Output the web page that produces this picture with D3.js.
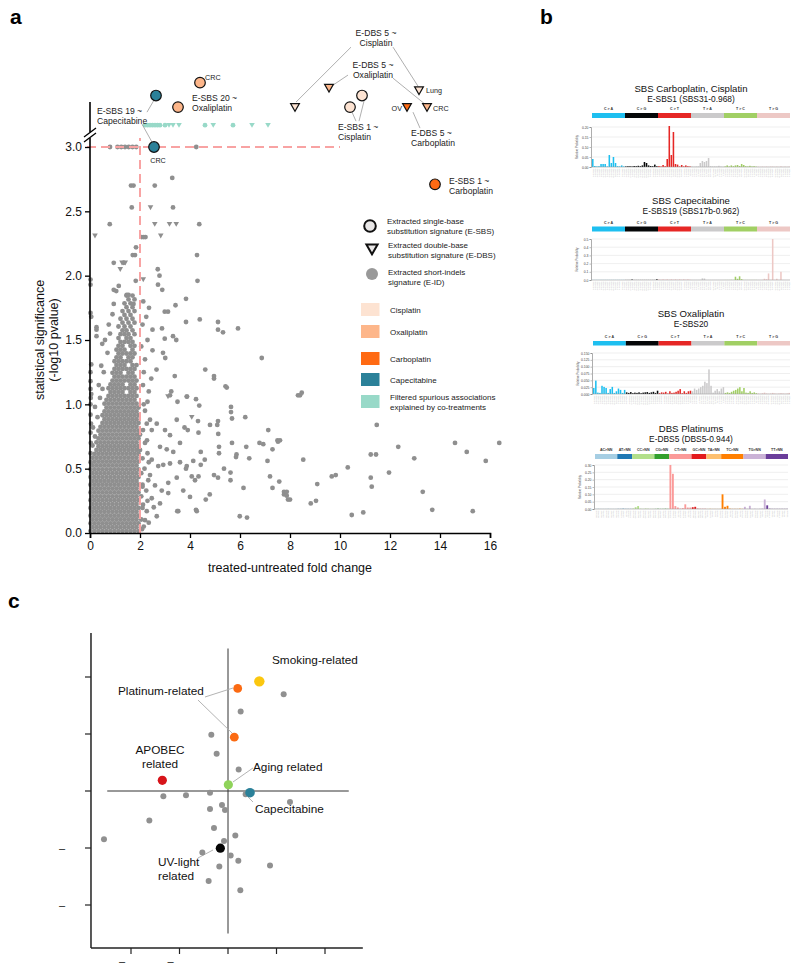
<!DOCTYPE html>
<html><head><meta charset="utf-8">
<script src="https://cdn.jsdelivr.net/npm/d3@7"></script>
<style>body{margin:0;background:#fff}svg{font-family:"Liberation Sans",Arial,Helvetica,sans-serif}</style>
</head><body>
<svg id="fig" width="800" height="973"></svg>
<script>
// ================= DATA =================
// Panel a : axis ticks
const xTicksA = [0,2,4,6,8,10,12,14,16];
const yTicksA = [0,0.5,1,1.5,2,2.5,3];
// dense cloud of associations, rows "y: x x x ..."
const blobRows = [
"0.015:0.02 .18 .34 .5 .66 .82 .98 1.14 1.3 1.46 1.62 1.78 1.94",
"0.045:.1 .26 .42 .58 .74 .9 1.06 1.22 1.38 1.54 1.7 1.86",
"0.075:0.02 .18 .34 .5 .66 .82 .98 1.14 1.3 1.46 1.62 1.78 1.94",
"0.105:.1 .26 .42 .58 .74 .9 1.06 1.22 1.38 1.54 1.7 1.86 2.05",
"0.135:0.02 .18 .34 .5 .66 .82 .98 1.14 1.3 1.46 1.62 1.78 1.94",
"0.165:.1 .26 .42 .58 .74 .9 1.06 1.22 1.38 1.54 1.7 1.86",
"0.195:0.02 .18 .34 .5 .66 .82 .98 1.14 1.3 1.46 1.62 1.78 1.94 2.1",
"0.225:.1 .26 .42 .58 .74 .9 1.06 1.22 1.38 1.54 1.7 1.86",
"0.255:0.02 .18 .34 .5 .66 .82 .98 1.14 1.3 1.46 1.62 1.78 1.94",
"0.285:.1 .26 .42 .58 .74 .9 1.06 1.22 1.38 1.54 1.7 1.86 2.05",
"0.315:0.02 .18 .34 .5 .66 .82 .98 1.14 1.3 1.46 1.62 1.78 1.94",
"0.345:.1 .26 .42 .58 .74 .9 1.06 1.22 1.38 1.54 1.7 1.86",
"0.375:0.02 .18 .34 .5 .66 .82 .98 1.14 1.3 1.46 1.62 1.78 1.94 2.1",
"0.405:.1 .26 .42 .58 .74 .9 1.06 1.22 1.38 1.54 1.7 1.86",
"0.435:0.02 .18 .34 .5 .66 .82 .98 1.14 1.3 1.46 1.62 1.78 1.94",
"0.465:.1 .26 .42 .58 .74 .9 1.06 1.22 1.38 1.54 1.7 1.86 2.05",
"0.495:0.02 .18 .34 .5 .66 .82 .98 1.14 1.3 1.46 1.62 1.78 1.94",
"0.525:.1 .26 .42 .58 .74 .9 1.06 1.22 1.38 1.54 1.7 1.86",
"0.555:.18 .34 .5 .66 .82 .98 1.14 1.3 1.46 1.62 1.78 1.94",
"0.585:.1 .26 .42 .58 .74 .9 1.06 1.22 1.38 1.54 1.7 1.86",
"0.615:.18 .34 .5 .66 .82 .98 1.14 1.3 1.46 1.62 1.78 1.94",
"0.645:.26 .42 .58 .74 .9 1.06 1.22 1.38 1.54 1.7 1.86 2.0",
"0.675:.34 .5 .66 .82 .98 1.14 1.3 1.46 1.62 1.78 1.94",
"0.705:.26 .42 .58 .74 .9 1.06 1.22 1.38 1.54 1.7 1.86",
"0.735:.34 .5 .66 .82 .98 1.14 1.3 1.46 1.62 1.78 1.94",
"0.765:.42 .58 .74 .9 1.06 1.22 1.38 1.54 1.7 1.86 2.0",
"0.795:.34 .5 .66 .82 .98 1.14 1.3 1.46 1.62 1.78 1.94",
"0.825:.42 .58 .74 .9 1.06 1.22 1.38 1.54 1.7 1.86",
"0.855:.5 .66 .82 .98 1.14 1.3 1.46 1.62 1.78 1.94",
"0.885:.58 .74 .9 1.06 1.22 1.38 1.54 1.7 1.86",
"0.915:.5 .66 .82 .98 1.14 1.3 1.46 1.62 1.78 1.94",
"0.945:.58 .74 .9 1.06 1.22 1.38 1.54 1.7 1.86",
"0.975:.66 .82 .98 1.14 1.3 1.46 1.62 1.78 1.94",
"1.005:.58 .74 .9 1.06 1.22 1.38 1.54 1.7 1.86",
"1.035:.66 .82 .98 1.14 1.3 1.46 1.62 1.78",
"1.065:.74 .9 1.06 1.22 1.38 1.54 1.7 1.86",
"1.095:.82 .98 1.14 1.3 1.62 1.78",
"1.125:.74 .9 1.06 1.22 1.38 1.54 1.7 1.86",
"1.155:.82 .98 1.14 1.3 1.62 1.78",
"1.185:.9 1.06 1.22 1.38 1.54 1.7 1.86",
"1.215:.98 1.14 1.3 1.46 1.62 1.78",
"1.245:.9 1.06 1.22 1.54 1.7",
"1.275:.98 1.14 1.3 1.46 1.62 1.78",
"1.305:1.06 1.22 1.38 1.7 1.86",
"1.335:.98 1.14 1.3 1.46 1.62",
"1.365:1.06 1.22 1.54 1.7",
"1.395:1.14 1.3 1.46 1.62 1.78",
"1.425:1.06 1.22 1.38 1.7",
"1.455:1.14 1.3 1.62 1.78",
"1.485:1.22 1.38 1.54 1.7",
"1.515:1.14 1.46 1.62",
"1.545:1.22 1.38 1.54 1.78",
"1.575:1.3 1.46 1.7",
"1.605:1.14 1.38 1.62",
"1.635:1.3 1.54 1.78",
"1.665:1.22 1.46 1.7",
"1.695:1.38 1.62",
"1.725:1.3 1.54 1.78",
"1.755:1.46 1.7",
"1.785:1.38 1.62",
"1.815:1.54 1.78",
"1.845:1.46 1.7"
];
// scattered associations [fold change, -log10 p, shape c=dot / t=DBS triangle]
const scatterPts = [
[0.8,3],[1.1,3],[1.25,3],[1.4,3],[1.55,3],[1.7,3],[1.85,3],[4.25,3],
[3.29,2.76],[1.64,2.70],[1.74,2.70],[2.59,2.70],
[1.67,2.53],[2.42,2.53,'t'],[3.32,2.53],
[0.79,2.40],[2.59,2.40,'t'],[3.18,2.40,'t'],[3.45,2.40,'t'],[4.37,2.40],
[0.2,2.31,'t'],[2.07,2.30],[2.15,2.30],[2.22,2.30],[2.83,2.31,'t'],
[1.84,2.22],[1.71,2.16],[1.80,2.16],[4.28,2.16],
[0.95,2.10],[1.28,2.10,'t'],[1.41,2.10,'t'],[1.35,2.10],[1.21,2.05,'t'],[2.71,2.05],
[4.30,1.96],[0.02,1.97],[0.02,1.93],[2.78,2.0],[2.13,1.97,'t'],[1.83,1.96],[2.72,1.93],[2.89,1.89],
[0.95,1.89],[1.47,1.85],[1.54,1.85],[3.84,1.82],[1.74,1.78],[2.13,1.80],[2.36,1.75],[3.42,1.77],
[0.02,1.71],[0.05,1.68],[2.99,1.72],[3.12,1.72],
[0.26,1.60],[0.26,1.58],[0.26,1.53],[3.84,1.64],[4.39,1.66],[5.12,1.64],[5.12,1.58],[5.32,1.56],[5.92,1.59],
[2.50,1.58],[2.88,1.59],[0.49,1.47],[3.32,1.53],[3.45,1.50],[2.99,1.51],
[2.50,1.42],[2.92,1.40],[3.01,1.36],[6.87,1.36],[0.05,1.31],[2.66,1.27],[4.61,1.27],[4.96,1.22],[4.96,1.20],[3.39,1.22],
[0.02,1.25],[0.02,1.18],[0.02,1.12],[0.05,1.08],[5.42,1.14],[3.25,1.10],[3.12,1.06,'t'],[4.24,1.04],[4.37,0.99],[3.88,1.06],
[5.64,0.98],[5.64,0.94],[5.68,0.89],[6.21,0.90],[4.07,0.90,'t'],[4.32,0.87],[5.12,0.87],[5.09,0.84],
[4.80,0.84],[3.78,0.82],[3.91,0.80],[4.34,0.78],[7.13,0.80],[5.13,0.77],
[6.25,0.67],[5.68,0.70],[6.78,0.70],[6.93,0.69],[7.5,0.72],[7.52,0.71],[7.30,0.65],[6.37,0.58],[7.1,0.56],
[5.16,0.67],[5.16,0.62],[4.43,0.63],[4.59,0.57],[5.86,0.61],[5.84,0.59],
[4.13,0.56],[3.84,0.50],[4.43,0.53],[4.34,0.44],[7.2,0.44],[5.36,0.50],[5.62,0.47],[5.62,0.41],
[5.12,0.43],[4.96,0.45],[4.63,0.26],[4.79,0.30],[6.14,0.35],[7.30,0.35],[7.76,0.32],[7.76,0.30],[7.92,0.26],
[5.99,0.13],[6.28,0.12],[3.49,0.17],[4.24,0.18],[8.32,1.07],[7.57,0.40],
[2.27,0.85],[2.47,0.80],[2.67,0.85],[3.0,0.80],[3.2,0.76],[3.47,0.88],[2.8,0.67],[3.07,0.65],[3.33,0.63],[3.6,0.70],
[2.47,0.57],[2.73,0.52],[2.93,0.53],[3.2,0.54],[3.6,0.55],[3.87,0.52],[4.07,0.44],[2.33,0.41],[2.6,0.37],[2.87,0.33],
[3.13,0.39],[3.47,0.43],[3.73,0.33],[4.0,0.28],[4.2,0.41],[2.47,0.27],[2.8,0.23],[3.13,0.31],[2.27,0.17],[2.67,0.13],
[4.27,0.17],[3.53,0.17],[3.2,1.07],[3.5,1.02],[3.87,1.06],[5.47,1.13],
[2.2,0.95],[2.35,1.1],[2.15,1.25],[2.3,0.62],[2.2,0.7],[2.4,0.45],[2.25,0.33],[2.55,0.2],[2.15,0.05],[2.35,0.08],
[2.08,0.03],[2.2,0.1],[2.12,0.22],[2.3,0.25],[2.1,0.36],[2.18,0.5],[2.35,0.55],[2.1,0.58],[2.28,0.72],[2.12,0.8],
[2.4,0.88],[2.15,1.0],[2.3,1.02],[2.12,1.15],[2.45,1.2],[2.2,1.35],[2.05,1.45],[2.3,1.5],[2.1,1.62],[2.25,1.68],
[0.1,0.68],[0.2,0.75],[0.12,0.82],[0.3,0.9],[0.2,0.98],[0.4,1.05],[0.35,1.15],[0.5,1.12],[0.55,1.25],[0.45,1.3],
[0.7,1.4],[0.6,1.5],[0.8,1.55],[0.75,1.62],[0.9,1.7],[0.95,1.78],[1.05,1.88],[1.15,1.92],
[0.02,0.55],[0.02,0.62],[0.03,0.70],[0.02,0.78],[0.04,0.85],[0.02,0.92],[0.02,1.0],[0.03,1.05],
[8.4,1.07],[8.47,1.09],[7.6,0.72],[11.47,0.84],[12.33,0.67],[11.23,0.61],[11.44,0.61],[14.6,0.70],[16.37,0.70],
[15.07,0.63],[15.83,0.56],[12.97,0.58],[8.53,0.57],[10.31,0.51],[9.67,0.44],[9.83,0.45],[11.23,0.43],[11.96,0.47],
[9.09,0.38],[11.27,0.36],[7.87,0.32],[7.87,0.29],[8.0,0.26],[8.83,0.23],[9.04,0.25],[13.31,0.32],[13.69,0.18],
[15.31,0.17],[10.47,0.14],[10.93,0.16]
];
// filtered spurious associations (drawn above the axis break)
const filteredLevel = 3.17;
const filteredPts = [[2.2,'c'],[2.3,'c'],[2.4,'c'],[2.5,'c'],[2.6,'c'],[2.7,'c'],[2.8,'c'],[3.0,'c'],
 [3.16,'t'],[3.32,'t'],[3.56,'t'],[4.6,'c'],[4.93,'t'],[5.72,'c'],[6.48,'t'],[7.12,'t']];
// highlighted treatment-associated signatures
const drugs = ["Cisplatin","Oxaliplatin","Carboplatin","Capecitabine","Filtered spurious associations|explained by co-treatments"];
const drugColors = ["#fde3d2","#fdb68a","#ff6a13","#2b8199","#98d9c8"];
const highlights = [
 {x:2.64,y:3.40,s:'c',d:"Capecitabine"},{x:2.56,y:3.0,s:'c',d:"Capecitabine"},
 {x:3.52,y:3.31,s:'c',d:"Oxaliplatin"},{x:4.4,y:3.50,s:'c',d:"Oxaliplatin"},
 {x:10.4,y:3.31,s:'c',d:"Cisplatin"},{x:10.88,y:3.40,s:'c',d:"Cisplatin"},
 {x:13.8,y:2.71,s:'c',d:"Carboplatin"},
 {x:8.2,y:3.31,s:'t',d:"Cisplatin"},{x:9.56,y:3.46,s:'t',d:"Oxaliplatin"},
 {x:13.16,y:3.44,s:'t',d:"Cisplatin"},{x:13.48,y:3.31,s:'t',d:"Oxaliplatin"},
 {x:12.68,y:3.31,s:'t',d:"Carboplatin"}
];
const annoLabels = [
 {t:["E-DBS 5 ~","Cisplatin"],x:11.44,y:3.862,a:"middle"},
 {t:["E-DBS 5 ~","Oxaliplatin"],x:11.32,y:3.613,a:"middle"},
 {t:["E-SBS 20 ~","Oxaliplatin"],x:4.08,y:3.357,a:"start"},
 {t:["E-SBS 19 ~","Capecitabine"],x:0.28,y:3.256,a:"start"},
 {t:["E-SBS 1 ~","Cisplatin"],x:9.92,y:3.131,a:"start"},
 {t:["E-DBS 5 ~","Carboplatin"],x:12.84,y:3.085,a:"start"},
 {t:["E-SBS 1 ~","Carboplatin"],x:14.36,y:2.712,a:"start"}
];
const tagLabels = [
 {t:"CRC",x:4.6,y:3.52,a:"start"},{t:"CRC",x:2.72,y:2.875,a:"middle"},
 {t:"Lung",x:13.44,y:3.419,a:"start"},{t:"CRC",x:13.72,y:3.279,a:"start"},{t:"OV",x:12.48,y:3.279,a:"end"}
];
const leadersA = [
 [10.44,3.776,8.24,3.349],[12.12,3.776,13.12,3.473],
 [10.32,3.559,9.72,3.481],[12.12,3.535,13.4,3.333],
 [2.28,3.271,2.56,3.364],[2.08,3.178,2.48,3.038],
 [10.64,3.201,10.48,3.271],[10.76,3.201,10.96,3.357],
 [12.92,3.271,13.2,3.147]
];

// Panel b : mutational signature profiles
const sbsTypes = ["C > A","C > G","C > T","T > A","T > C","T > G"];
const sbsColors = ["#1ebff0","#050708","#e62725","#cbcacb","#a1cf64","#edc8c5"];
const bases = ["A","C","G","T"];
const sbs1 = [
 0.04,0.005,0.003,0.004,0.015,0.015,0.015,0.003,0.06,0.02,0.05,0.02,0.004,0.003,0.008,0.003,
 0.003,0.004,0.004,0.003,0.005,0.004,0.006,0.004,0.008,0.025,0.02,0.008,0.005,0.004,0.012,0.004,
 0.005,0.003,0.01,0.004,0.04,0.205,0.06,0.175,0.015,0.012,0.003,0.01,0.003,0.008,0.004,0.003,
 0.003,0.002,0.003,0.003,0.02,0.03,0.025,0.03,0.045,0.004,0.003,0.003,0.003,0.006,0.003,0.002,
 0.003,0.008,0.003,0.008,0.004,0.008,0.01,0.005,0.015,0.01,0.004,0.003,0.006,0.003,0.004,0.002,
 0.002,0.001,0.002,0.001,0.002,0.001,0.002,0.002,0.001,0.002,0.001,0.003,0.001,0.002,0.001,0.002];
const sbs19 = [
 0.001,0.001,0.001,0.001,0.001,0.001,0.001,0.001,0.001,0.001,0.001,0.001,0.001,0.001,0.001,0.001,
 0.001,0.001,0.001,0.006,0.001,0.001,0.001,0.001,0.001,0.001,0.001,0.001,0.001,0.001,0.001,0.009,
 0.002,0.001,0.002,0.001,0.002,0.001,0.002,0.001,0.002,0.001,0.002,0.001,0.002,0.001,0.002,0.001,
 0.001,0.001,0.001,0.001,0.002,0.02,0.018,0.001,0.001,0.001,0.001,0.001,0.001,0.001,0.001,0.001,
 0.001,0.001,0.001,0.002,0.001,0.04,0.015,0.045,0.01,0.001,0.001,0.001,0.001,0.001,0.001,0.001,
 0.001,0.001,0.002,0.015,0.01,0.08,0.002,0.5,0.002,0.015,0.002,0.1,0.002,0.001,0.001,0.001];
const sbs20 = [
 0.022,0.049,0.005,0.004,0.03,0.026,0.022,0.004,0.018,0.026,0.004,0.01,0.02,0.015,0.004,0.015,
 0.006,0.004,0.007,0.003,0.005,0.004,0.006,0.003,0.005,0.006,0.007,0.004,0.006,0.008,0.004,0.012,
 0.003,0.006,0.005,0.008,0.002,0.01,0.004,0.005,0.008,0.012,0.018,0.003,0.01,0.004,0.01,0.012,
 0.01,0.02,0.015,0.02,0.025,0.03,0.045,0.04,0.09,0.03,0.005,0.012,0.018,0.01,0.02,0.025,
 0.004,0.006,0.004,0.008,0.012,0.015,0.02,0.025,0.01,0.022,0.005,0.004,0.01,0.004,0.006,0.003,
 0.002,0.001,0.003,0.005,0.002,0.001,0.002,0.004,0.002,0.001,0.002,0.003,0.002,0.001,0.002,0.004];
const dbsTypes = ["AC>NN","AT>NN","CC>NN","CG>NN","CT>NN","GC>NN","TA>NN","TC>NN","TG>NN","TT>NN"];
const dbsCounts = [9,6,9,6,9,6,6,9,9,9];
const dbsColors = ["#a6cee3","#1f78b4","#b2df8a","#33a02c","#fb9a99","#e31a1c","#fdbf6f","#ff7f00","#cab2d6","#6a3d9a"];
const dbs5 = [
 0.001,0.002,0.001,0.001,0.001,0.002,0.001,0.001,0.001,
 0.001,0.001,0.002,0.001,0.001,0.001,
 0.003,0.012,0.02,0.002,0.001,0.003,0.002,0.001,0.001,
 0.001,0.002,0.001,0.001,0.002,0.001,
 0.30,0.24,0.02,0.01,0.003,0.006,0.032,0.01,0.01,
 0.012,0.015,0.002,0.001,0.001,0.001,
 0.001,0.002,0.001,0.001,0.001,0.001,
 0.10,0.015,0.022,0.002,0.001,0.001,0.001,0.002,0.001,
 0.015,0.002,0.022,0.001,0.002,0.001,0.002,0.003,0.065,
 0.025,0.002,0.001,0.001,0.001,0.001,0.001,0.001,0.001];

// Panel c : signature embedding
const xTicksC = [-2,-1,0,1,2];
const yTicksC = [-2,-1,0,1,2];
const greyC = [[1.148,1.697],[0.261,1.394],[-0.344,0.985],[-0.234,0.653],[0.22,0.379],[-1.333,-0.093],
 [-0.866,-0.076],[-0.371,-0.029],[0.364,-0.058],[1.278,-0.192],[-0.124,-0.245],[-0.371,-0.315],[-0.062,-0.332],
 [-1.622,-0.519],[-0.289,-0.647],[-2.557,-0.845],[0.151,-0.781],[-0.082,-0.875],[-0.529,-1.079],[0.055,-1.131],
 [0.213,-1.224],[0.866,-1.306],[-0.179,-1.324],[-0.399,-1.58],[0.254,-1.743]];
const keyC = [
 {x:0.646,y:1.924,c:"#fbc70f",r:5.2},{x:0.20,y:1.80,c:"#fb6a12",r:4.4},{x:0.13,y:0.945,c:"#fb6a12",r:4.4},
 {x:-1.354,y:0.187,c:"#d7141a",r:4.6},{x:0.007,y:0.11,c:"#8fd35a",r:4.6},{x:0.454,y:-0.03,c:"#2b8199",r:4.8},
 {x:-0.158,y:-1.003,c:"#050505",r:4.6}];
const labelsC = [
 {t:["Smoking-related"],x:0.907,y:2.228,a:"start"},
 {t:["Platinum-related"],x:-2.268,y:1.684,a:"start"},
 {t:["APOBEC","related"],x:-1.402,y:0.649,a:"middle"},
 {t:["Aging related"],x:0.515,y:0.351,a:"start"},
 {t:["Capecitabine"],x:0.557,y:-0.386,a:"start"},
 {t:["UV-light","related"],x:-1.443,y:-1.316,a:"start"}];
const leadersC = [[-0.474,1.649,0.103,1.807],[-0.619,1.596,0.082,1.018],[0.515,0.404,0.103,0.158],
 [0.515,-0.193,0.412,-0.105],[-0.619,-1.175,-0.309,-1.035]];

// ================= DRAW =================
const svg = d3.select("#fig");
const GREY = "#8f8f8f";
const TXT = "#222";
const tri = (cx,cy,s) => `M${cx-s},${cy-s*0.8}L${cx+s},${cy-s*0.8}L${cx},${cy+s*0.95}Z`;

// panel letters
[["a",10,24],["b",540,24],["c",8,608]].forEach(([t,x,y])=>
  svg.append("text").attr("x",x).attr("y",y).attr("font-size",21).attr("font-weight","bold").style("fill","#000").text(t));

// ---------- Panel a ----------
const gA = svg.append("g");
const xA = d3.scaleLinear().domain([0,16]).range([90,490]);
const yA = d3.scaleLinear().domain([0,3]).range([533,147]);

const blobPts = [];
blobRows.forEach(r=>{const [yy,xs]=r.split(":"); xs.trim().split(/\s+/).forEach(v=>blobPts.push([+v,+yy]));});
const allPts = blobPts.concat(scatterPts);
gA.append("g").selectAll("circle").data(allPts.filter(d=>d[2]!=='t')).join("circle")
  .attr("cx",d=>xA(d[0])).attr("cy",d=>yA(d[1])).attr("r",2.4).attr("fill",GREY);
gA.append("g").selectAll("path").data(allPts.filter(d=>d[2]==='t')).join("path")
  .attr("d",d=>tri(xA(d[0]),yA(d[1]),2.8)).attr("fill",GREY);

// filtered
const filtC = drugColors[4];
gA.append("g").selectAll("circle").data(filteredPts.filter(d=>d[1]==='c')).join("circle")
  .attr("cx",d=>xA(d[0])).attr("cy",yA(filteredLevel)).attr("r",2.4).attr("fill",filtC);
gA.append("g").selectAll("path").data(filteredPts.filter(d=>d[1]==='t')).join("path")
  .attr("d",d=>tri(xA(d[0]),yA(filteredLevel),2.8)).attr("fill",filtC);

// dashed thresholds
gA.append("line").attr("x1",xA(2)).attr("x2",xA(2)).attr("y1",yA(0)).attr("y2",yA(3.07))
  .attr("stroke","#f8a3a3").attr("stroke-width",2).attr("stroke-dasharray","9,5");
gA.append("line").attr("x1",xA(-0.12)).attr("x2",xA(10)).attr("y1",yA(3)).attr("y2",yA(3))
  .attr("stroke","#f8a3a3").attr("stroke-width",2).attr("stroke-dasharray","9,5");

// axes
const axX = gA.append("g").attr("transform",`translate(0,${yA(0)})`)
  .call(d3.axisBottom(xA).tickValues(xTicksA).tickSize(5).tickPadding(3).tickFormat(d3.format("d")));
axX.selectAll("text").attr("font-size",12).attr("font-family","Liberation Sans, Arial, sans-serif").style("fill","#111");
axX.select(".domain").attr("stroke-width",1.6);
axX.selectAll(".tick line").attr("stroke-width",1.3);
const axY = gA.append("g").attr("transform",`translate(${xA(0)},0)`)
  .call(d3.axisLeft(yA).tickValues(yTicksA).tickSize(5).tickPadding(3).tickFormat(d3.format(".1f")));
axY.select(".domain").remove();
axY.selectAll("text").attr("font-size",12).attr("font-family","Liberation Sans, Arial, sans-serif").style("fill","#111");
axY.selectAll(".tick line").attr("stroke-width",1.3);
gA.append("line").attr("x1",xA(0)).attr("x2",xA(0)).attr("y1",yA(0)).attr("y2",yA(3.07)).attr("stroke","#000").attr("stroke-width",1.6);
gA.append("line").attr("x1",xA(0)).attr("x2",xA(0)).attr("y1",yA(3.115)).attr("y2",yA(3.35)).attr("stroke","#000").attr("stroke-width",1.6);
// axis break marks
[0,5].forEach(dy=>gA.append("line").attr("x1",xA(0)-6).attr("y1",yA(3.07)+dy-1)
  .attr("x2",xA(0)+6).attr("y2",yA(3.07)+dy-10).attr("stroke","#000").attr("stroke-width",1.3));

gA.append("text").attr("x",xA(8)).attr("y",572).attr("text-anchor","middle").attr("font-size",12.5).style("fill","#111").text("treated-untreated fold change");
const yl = gA.append("text").attr("transform",`translate(44,${yA(1.5)}) rotate(-90)`).attr("text-anchor","middle").attr("font-size",12.5).style("fill","#111");
yl.append("tspan").attr("x",0).attr("dy",0).text("statistical significance");
yl.append("tspan").attr("x",0).attr("dy",14).text("(-log10 pvalue)");

// leader lines
gA.append("g").selectAll("line").data(leadersA).join("line")
  .attr("x1",d=>xA(d[0])).attr("y1",d=>yA(d[1])).attr("x2",d=>xA(d[2])).attr("y2",d=>yA(d[3]))
  .attr("stroke","#9a9a9a").attr("stroke-width",0.8);

// highlighted markers
const colOf = d => drugColors[drugs.indexOf(d)];
gA.append("g").selectAll("circle").data(highlights.filter(d=>d.s==='c')).join("circle")
  .attr("cx",d=>xA(d.x)).attr("cy",d=>yA(d.y)).attr("r",5.3).attr("fill",d=>colOf(d.d)).attr("stroke","#111").attr("stroke-width",1.2);
gA.append("g").selectAll("path").data(highlights.filter(d=>d.s==='t')).join("path")
  .attr("d",d=>tri(xA(d.x),yA(d.y),4.4)).attr("fill",d=>colOf(d.d)).attr("stroke","#111").attr("stroke-width",1.2);

// annotation text
const annoG = gA.append("g").style("fill",TXT);
annoLabels.forEach(l=>{
  const t = annoG.append("text").attr("x",xA(l.x)).attr("y",yA(l.y)).attr("text-anchor",l.a).attr("font-size",8.6);
  l.t.forEach((s,i)=>t.append("tspan").attr("x",xA(l.x)).attr("dy",i?10.2:0).text(s));
});
annoG.selectAll("text.tag").data(tagLabels).join("text").attr("class","tag")
  .attr("x",d=>xA(d.x)).attr("y",d=>yA(d.y)).attr("text-anchor",d=>d.a).attr("font-size",7.2).style("fill","#222").text(d=>d.t);

// legend (panel a)
const lg = gA.append("g").attr("font-size",8).style("fill",TXT);
lg.append("circle").attr("cx",370).attr("cy",226).attr("r",5.8).style("fill","#e9e7e7").attr("stroke","#111").attr("stroke-width",2);
lg.append("path").attr("d",tri(372,249,5.6)).style("fill","#e9e7e7").attr("stroke","#111").attr("stroke-width",2);
lg.append("circle").attr("cx",372).attr("cy",274).attr("r",6).style("fill","#999");
const legTxt = [[["Extracted single-base","substitution signature (E-SBS)"],387,224],
 [["Extracted double-base","substitution signature (E-DBS)"],388,248],
 [["Extracted short-indels","signature (E-ID)"],388,275]];
legTxt.forEach(([ls,x,y])=>{const t=lg.append("text").attr("x",x).attr("y",y);
  ls.forEach((s,i)=>t.append("tspan").attr("x",x).attr("dy",i?10:0).text(s));});
const swY = [303,325,352,373,395];
drugs.forEach((d,i)=>{
  lg.append("rect").attr("x",361).attr("y",swY[i]).attr("width",18.5).attr("height",13).style("fill",drugColors[i]);
  const t=lg.append("text").attr("x",390).attr("y",swY[i]+(i===4?5:9.5));
  d.split("|").forEach((s,j)=>t.append("tspan").attr("x",390).attr("dy",j?10:0).text(s));
});

// ---------- Panel b ----------
const gB = svg.append("g");
function sigPlot(cfg, vals, types, counts, colors, title, sub, ticks, fmt, ctx){
  const g = gB.append("g");
  const cx = 691;
  g.append("text").attr("x",cx).attr("y",cfg.ty).attr("text-anchor","middle").attr("font-size",9.6).style("fill","#111").text(title);
  g.append("text").attr("x",cx).attr("y",cfg.ty+9.5).attr("text-anchor","middle").attr("font-size",8.4).style("fill","#111").text(sub);
  const n = vals.length;
  const xb = d3.scaleBand().domain(d3.range(n)).range([cfg.x0,cfg.x1]).paddingInner(0.25);
  const xs = d3.scaleLinear().domain([0,n]).range([cfg.x0,cfg.x1]);
  const y = d3.scaleLinear().domain([0,ticks[ticks.length-1]]).range([cfg.b,cfg.t]);
  let start=0;
  types.forEach((tp,i)=>{
    const w=counts[i];
    g.append("rect").attr("x",xs(start)).attr("y",cfg.cb).attr("width",xs(start+w)-xs(start)).attr("height",cfg.cbh).attr("fill",colors[i]);
    g.append("text").attr("x",(xs(start)+xs(start+w))/2).attr("y",cfg.cb-3).attr("text-anchor","middle")
      .attr("font-size",3.6).attr("font-weight","bold").style("fill","#333").text(tp);
    start+=w;
  });
  g.append("g").selectAll("line").data(ticks).join("line").attr("x1",cfg.x0).attr("x2",cfg.x1)
    .attr("y1",d=>y(d)).attr("y2",d=>y(d)).attr("stroke","#e4e4e4").attr("stroke-width",0.6);
  const ax = g.append("g").attr("transform",`translate(${cfg.x0-1},0)`).call(d3.axisLeft(y).tickValues(ticks).tickSize(1.5).tickPadding(1).tickFormat(d3.format(fmt)));
  ax.selectAll("text").attr("font-size",3.4).style("fill","#444");
  ax.select(".domain").attr("stroke","#777").attr("stroke-width",0.6);
  ax.selectAll(".tick line").attr("stroke","#777").attr("stroke-width",0.5);
  g.append("text").attr("transform",`translate(${cfg.x0-14},${(cfg.t+cfg.b)/2}) rotate(-90)`).attr("text-anchor","middle")
    .attr("font-size",2.8).style("fill","#555").text("Relative Probability");
  const catOf = []; counts.forEach((c,i)=>{for(let k=0;k<c;k++)catOf.push(i);});
  g.append("g").selectAll("rect").data(vals).join("rect")
    .attr("x",(d,i)=>xb(i)).attr("width",xb.bandwidth()).attr("y",d=>y(d)).attr("height",d=>cfg.b-y(d))
    .attr("fill",(d,i)=>colors[catOf[i]]);
  g.append("line").attr("x1",cfg.x0).attr("x2",cfg.x1).attr("y1",cfg.b).attr("y2",cfg.b).attr("stroke","#999").attr("stroke-width",0.5);
  g.append("g").selectAll("text").data(ctx).join("text")
    .attr("transform",(d,i)=>`translate(${xb(i)+xb.bandwidth()/2+0.8},${cfg.b+1.5}) rotate(-90)`)
    .attr("text-anchor","end").attr("font-size",2.2).style("fill","#b5b5b5").text(d=>d);
}
const sbsCtx = []; sbsTypes.forEach(tp=>{const m=tp.replace(/\s/g,""); bases.forEach(a=>bases.forEach(b=>sbsCtx.push(`${a}[${m}]${b}`)));});
const dbsCtx = []; dbsTypes.forEach((tp,i)=>{for(let k=0;k<dbsCounts[i];k++)dbsCtx.push(tp.slice(0,2)+">"+bases[k%4]+bases[(k+1)%4]);});
const sixteen = sbsTypes.map(()=>16);
sigPlot({x0:592,x1:790,ty:92,cb:113,cbh:5,t:127,b:167},sbs1,sbsTypes,sixteen,sbsColors,"SBS Carboplatin, Cisplatin","E-SBS1 (SBS31-0.968)",[0,0.05,0.1,0.15,0.2],".2f",sbsCtx);
sigPlot({x0:592,x1:790,ty:204,cb:226.5,cbh:5,t:239,b:280},sbs19,sbsTypes,sixteen,sbsColors,"SBS Capecitabine","E-SBS19 (SBS17b-0.962)",[0,0.1,0.2,0.3,0.4,0.5],".1f",sbsCtx);
sigPlot({x0:593,x1:790,ty:317,cb:341,cbh:4.5,t:353,b:394},sbs20,sbsTypes,sixteen,sbsColors,"SBS Oxaliplatin","E-SBS20",[0,0.025,0.05,0.075,0.1,0.125,0.15],".3f",sbsCtx);
sigPlot({x0:595,x1:788,ty:432,cb:454,cbh:5,t:465,b:509},dbs5,dbsTypes,dbsCounts,dbsColors,"DBS Platinums","E-DBS5 (DBS5-0.944)",[0,0.05,0.1,0.15,0.2,0.25,0.3],".2f",dbsCtx);

// ---------- Panel c ----------
const gC = svg.append("g");
const xC = d3.scaleLinear().domain([-2,2]).range([131,325]);
const yC = d3.scaleLinear().domain([-2,2]).range([905,677]);
const xMinC = -2.825, xMaxC = 2.78, yMinC = -2.754, yMaxC = 2.77;
gC.append("line").attr("x1",xC(xMinC)).attr("x2",xC(xMinC)).attr("y1",yC(yMaxC)).attr("y2",yC(yMinC)).attr("stroke","#222").attr("stroke-width",1.5);
gC.append("line").attr("x1",xC(xMinC)).attr("x2",xC(xMaxC)).attr("y1",yC(yMinC)).attr("y2",yC(yMinC)).attr("stroke","#222").attr("stroke-width",1.5);
gC.append("g").selectAll("line").data(yTicksC).join("line").attr("x1",xC(xMinC)-6).attr("x2",xC(xMinC))
  .attr("y1",d=>yC(d)).attr("y2",d=>yC(d)).attr("stroke","#222").attr("stroke-width",1.2);
gC.append("g").selectAll("line").data(xTicksC).join("line").attr("y1",yC(yMinC)).attr("y2",yC(yMinC)+6)
  .attr("x1",d=>xC(d)).attr("x2",d=>xC(d)).attr("stroke","#222").attr("stroke-width",1.2);
gC.append("g").selectAll("text").data(yTicksC.filter(d=>d<0)).join("text").attr("x",62).attr("y",d=>yC(d)+4)
  .attr("text-anchor","middle").attr("font-size",11).style("fill","#111").text("–");
gC.append("g").selectAll("text").data(xTicksC.filter(d=>d<0)).join("text").attr("x",d=>xC(d)-9).attr("y",yC(yMinC)+17)
  .attr("text-anchor","middle").attr("font-size",11).style("fill","#111").text("–");
gC.append("line").attr("x1",xC(0)).attr("x2",xC(0)).attr("y1",yC(2.5)).attr("y2",yC(-2.5)).attr("stroke","#333").attr("stroke-width",1);
gC.append("line").attr("x1",xC(-2.49)).attr("x2",xC(2.49)).attr("y1",yC(0)).attr("y2",yC(0)).attr("stroke","#333").attr("stroke-width",1);
gC.append("g").selectAll("line").data(leadersC).join("line")
  .attr("x1",d=>xC(d[0])).attr("y1",d=>yC(d[1])).attr("x2",d=>xC(d[2])).attr("y2",d=>yC(d[3]))
  .attr("stroke","#aaa").attr("stroke-width",0.9);
gC.append("g").selectAll("circle").data(greyC).join("circle").attr("cx",d=>xC(d[0])).attr("cy",d=>yC(d[1])).attr("r",3).attr("fill","#909090");
gC.append("g").selectAll("circle").data(keyC).join("circle").attr("cx",d=>xC(d.x)).attr("cy",d=>yC(d.y)).attr("r",d=>d.r).attr("fill",d=>d.c);
labelsC.forEach(l=>{
  const t=gC.append("text").attr("x",xC(l.x)).attr("y",yC(l.y)).attr("text-anchor",l.a).attr("font-size",11.8).style("fill","#111");
  l.t.forEach((s,i)=>t.append("tspan").attr("x",xC(l.x)).attr("dy",i?14:0).text(s));
});
</script>
</body></html>
